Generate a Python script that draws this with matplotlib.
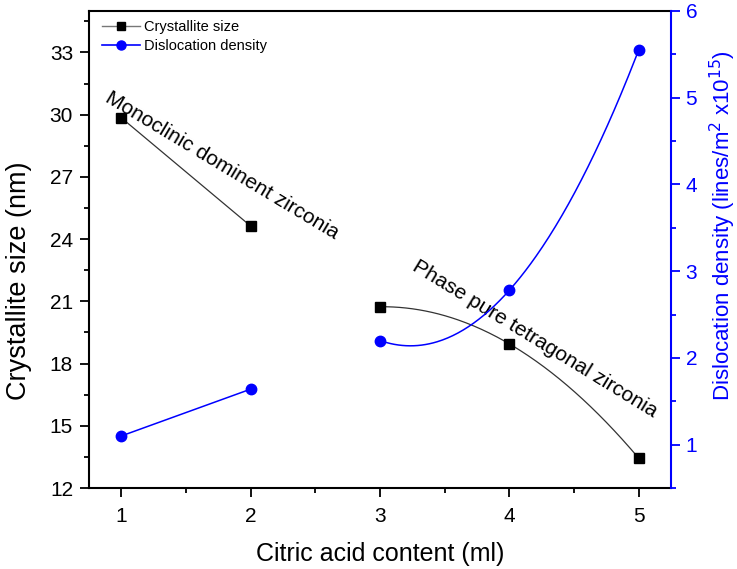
import numpy as np
import matplotlib
matplotlib.use("Agg")
import matplotlib.pyplot as plt
from matplotlib.ticker import MultipleLocator

plt.rcParams['font.family'] = ['Liberation Sans', 'DejaVu Sans']

# Data
citric = [1, 2, 3, 4, 5]
crystallite = [29.85, 24.63, 20.74, 18.95, 13.44]
dislocation = [1.10, 1.64, 2.20, 2.78, 5.55]
xticks = [1, 2, 3, 4, 5]
left_ticks = [12, 15, 18, 21, 24, 27, 30, 33]
right_ticks = [1, 2, 3, 4, 5, 6]

BLUE = '#0000ff'

fig = plt.figure(figsize=(7.37, 5.69), dpi=100)
ax = fig.add_axes([89/737, 1 - 488/569, (671-89)/737, (488-11)/569])
ax2 = ax.twinx()

x = np.array(citric, float)
yc = np.array(crystallite, float)
yd = np.array(dislocation, float)

# Segment 1 (monoclinic): straight lines
ax.plot(x[:2], yc[:2], color='#333333', lw=0.9, zorder=2)
ax2.plot(x[:2], yd[:2], color=BLUE, lw=1.1, zorder=2)

# Segment 2 (tetragonal): smooth curve through the three points
xs = np.linspace(x[2], x[4], 200)
pc = np.polyfit(x[2:], yc[2:], 2)
pd_ = np.polyfit(x[2:], yd[2:], 2)
ax.plot(xs, np.polyval(pc, xs), color='#333333', lw=0.9, zorder=2)
ax2.plot(xs, np.polyval(pd_, xs), color=BLUE, lw=1.1, zorder=2)

# Markers
ax.plot(x, yc, ls='none', marker='s', ms=7, color='black', zorder=3)
ax2.plot(x, yd, ls='none', marker='o', ms=7.5, color=BLUE, zorder=3)

# Legend handles
h1, = ax.plot([], [], color='#777777', lw=1, marker='s', ms=5.5, mfc='black', mec='black',
              label='Crystallite size')
h2, = ax.plot([], [], color=BLUE, lw=1.2, marker='o', ms=6.5, label='Dislocation density')
leg = ax.legend(handles=[h1, h2], loc='upper left', frameon=False, fontsize=10.5,
                bbox_to_anchor=(0.0, 1.008), handlelength=2.6, handletextpad=0.3,
                labelspacing=0.35, borderaxespad=0.5)

# Axes limits and ticks
ax.set_xlim(0.75, 5.25)
ax.set_ylim(12, 35)
ax2.set_ylim(0.5, 6)
ax.set_xticks(xticks)
ax.set_yticks(left_ticks)
ax2.set_yticks(right_ticks)
ax.xaxis.set_minor_locator(MultipleLocator(0.5))
ax.yaxis.set_minor_locator(MultipleLocator(1.5))
ax2.yaxis.set_minor_locator(MultipleLocator(0.5))

ax.tick_params(axis='both', which='major', direction='out', length=6.5, width=1.3,
               labelsize=15, top=False, right=False)
ax.tick_params(axis='x', which='major', pad=7)
ax.tick_params(axis='y', which='major', pad=5)
ax.tick_params(axis='both', which='minor', direction='out', length=3.5, width=1.3,
               top=False, right=False)
ax2.tick_params(axis='y', which='major', direction='out', length=6.5, width=1.3,
                labelsize=15, colors=BLUE, pad=4)
ax2.tick_params(axis='y', which='minor', direction='out', length=3.5, width=1.3,
                colors=BLUE)

for s in ['left', 'bottom', 'top']:
    ax.spines[s].set_linewidth(1.5)
ax.spines['right'].set_visible(False)
for s in ['left', 'bottom', 'top']:
    ax2.spines[s].set_visible(False)
ax2.spines['right'].set_color(BLUE)
ax2.spines['right'].set_linewidth(1.5)

ax.set_xlabel('Citric acid content (ml)', fontsize=18, labelpad=12)
ax.set_ylabel('Crystallite size (nm)', fontsize=19.5)
ax.yaxis.set_label_coords((32 - 89) / 582, (488 - 281) / 477)
ax2.set_ylabel(r'Dislocation density (lines/m$^{2}$ x10$^{15}$)', fontsize=16,
               color=BLUE)
ax2.yaxis.set_label_coords((708 - 89) / 582, (488 - 226) / 477)

# Annotations
ax.text(1.78, 27.56, 'Monoclinic dominent zirconia', fontsize=15, rotation=-31,
        ha='center', va='center', rotation_mode='anchor')
ax.text(4.2, 19.17, 'Phase pure tetragonal zirconia', fontsize=15, rotation=-31.5,
        ha='center', va='center', rotation_mode='anchor')

fig.savefig('out.png', dpi=100)
